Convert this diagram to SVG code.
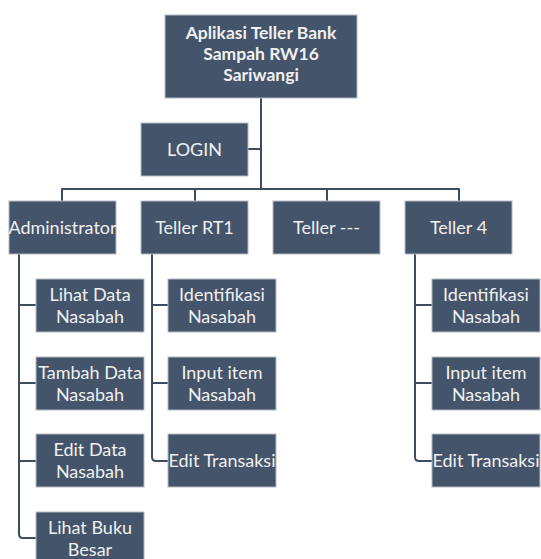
<svg xmlns="http://www.w3.org/2000/svg" width="541" height="559" viewBox="0 0 541 559">
<style>
.box{fill:#44546A;stroke:#B4BAC3;stroke-width:1}
.t{font-family:Lato,"Open Sans","Liberation Sans",sans-serif;font-size:18px;fill:#F0F0F0;text-anchor:middle}
.b{font-weight:bold;font-size:17.5px}
.c{fill:none;stroke:#3E4C5F;stroke-width:2;stroke-linejoin:round}
</style>
<rect width="541" height="559" fill="#FFFFFF"/>
<g id="connectors">
<path class="c" d="M261,98 V189"/>
<path class="c" d="M248,149 H261"/>
<path class="c" d="M62,201 V189 H459 V201"/>
<path class="c" d="M195,189 V201"/>
<path class="c" d="M327,189 V201"/>
<path class="c" d="M19,254 V534 Q19,538 23,538 H36"/>
<path class="c" d="M19,305 H36 M19,383 H36 M19,461 H36"/>
<path class="c" d="M152,254 V457 Q152,461 156,461 H168"/>
<path class="c" d="M152,305 H168 M152,383 H168"/>
<path class="c" d="M415,254 V457 Q415,461 419,461 H432"/>
<path class="c" d="M415,305 H432 M415,383 H432"/>
</g>
<g id="root">
<rect class="box" x="165" y="15" width="192" height="83"/>
<text class="t b" x="261" y="39">Aplikasi Teller Bank</text>
<text class="t b" x="261" y="60">Sampah RW16</text>
<text class="t b" x="261" y="81">Sariwangi</text>
</g>
<g id="login">
<rect class="box" x="141" y="123" width="107" height="53"/>
<text class="t" x="194.5" y="156">LOGIN</text>
</g>
<g id="administrator">
<rect class="box" x="9" y="201" width="107" height="53"/>
<text class="t" x="62.5" y="234">Administrator</text>
</g>
<g id="teller-rt1">
<rect class="box" x="141" y="201" width="107" height="53"/>
<text class="t" x="194.5" y="234">Teller RT1</text>
</g>
<g id="teller-dash">
<rect class="box" x="273" y="201" width="107" height="53"/>
<text class="t" x="326.5" y="234">Teller ---</text>
</g>
<g id="teller-4">
<rect class="box" x="405" y="201" width="107" height="53"/>
<text class="t" x="458.5" y="234">Teller 4</text>
</g>
<g id="lihat-data">
<rect class="box" x="36" y="279" width="108" height="53"/>
<text class="t" x="90" y="301">Lihat Data</text>
<text class="t" x="90" y="322.5">Nasabah</text>
</g>
<g id="tambah-data">
<rect class="box" x="36" y="357" width="108" height="53"/>
<text class="t" x="90" y="379">Tambah Data</text>
<text class="t" x="90" y="400.5">Nasabah</text>
</g>
<g id="edit-data">
<rect class="box" x="36" y="434" width="108" height="53"/>
<text class="t" x="90" y="456">Edit Data</text>
<text class="t" x="90" y="477.5">Nasabah</text>
</g>
<g id="lihat-buku">
<rect class="box" x="36" y="512" width="108" height="53"/>
<text class="t" x="90" y="534">Lihat Buku</text>
<text class="t" x="90" y="555.5">Besar</text>
</g>
<g id="identifikasi-1">
<rect class="box" x="168" y="279" width="108" height="53"/>
<text class="t" x="222" y="301">Identifikasi</text>
<text class="t" x="222" y="322.5">Nasabah</text>
</g>
<g id="input-1">
<rect class="box" x="168" y="357" width="108" height="53"/>
<text class="t" x="222" y="379">Input item</text>
<text class="t" x="222" y="400.5">Nasabah</text>
</g>
<g id="edit-transaksi-1">
<rect class="box" x="168" y="434" width="108" height="53"/>
<text class="t" x="222" y="467">Edit Transaksi</text>
</g>
<g id="identifikasi-4">
<rect class="box" x="432" y="279" width="108" height="53"/>
<text class="t" x="486" y="301">Identifikasi</text>
<text class="t" x="486" y="322.5">Nasabah</text>
</g>
<g id="input-4">
<rect class="box" x="432" y="357" width="108" height="53"/>
<text class="t" x="486" y="379">Input item</text>
<text class="t" x="486" y="400.5">Nasabah</text>
</g>
<g id="edit-transaksi-4">
<rect class="box" x="432" y="434" width="108" height="53"/>
<text class="t" x="486" y="467">Edit Transaksi</text>
</g>
</svg>
